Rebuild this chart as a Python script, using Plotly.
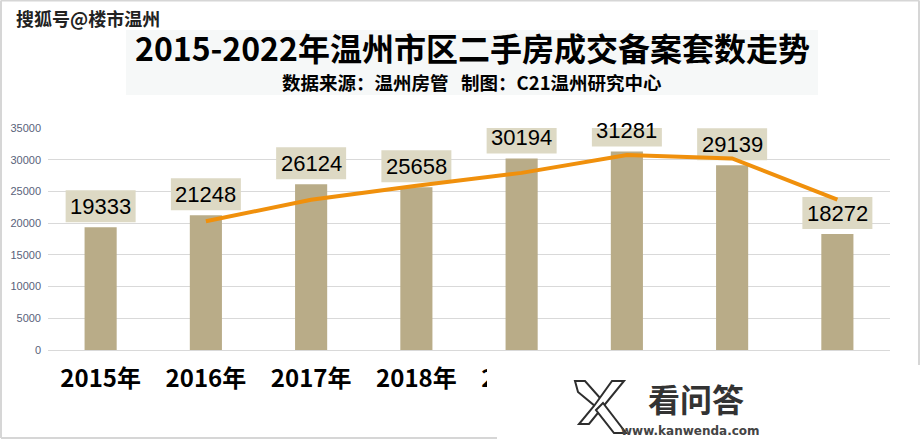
import plotly.graph_objects as go

years = ["2015年", "2016年", "2017年", "2018年", "2019年", "2020年", "2021年", "2022年"]
counts = [19333, 21248, 26124, 25658, 30194, 31281, 29139, 18272]
# 2-period moving-average trend line as drawn in the reference (starts at 2016)
trend_years = years[1:]
trend_vals = [20291, 23686, 25891, 27926, 30738, 30210, 23706]
yticks = [0, 5000, 10000, 15000, 20000, 25000, 30000, 35000]
# tick labels for 2020-2022 are hidden behind the watermark in the reference
xticktext = ["2015年", "2016年", "2017年", "2018年", "2019年", "", "", ""]

title = "2015-2022年温州市区二手房成交备案套数走势"
subtitle = "数据来源：温州房管   制图：C21温州研究中心"
watermark = "搜狐号@楼市温州"

W, H = 921, 440
L, R, T, B = 48, 31, 128, 90
PW, PH = W - L - R, H - T - B

def px(x):
    return (x - L) / PW

def py(y):
    return (H - B - y) / PH

CJK = "Noto Sans CJK SC"

fig = go.Figure()
fig.add_trace(go.Bar(x=years, y=counts, marker=dict(color="#B9AC88", line=dict(width=0)),
                     hoverinfo="skip", showlegend=False))
fig.add_trace(go.Scatter(x=trend_years, y=trend_vals, mode="lines",
                         line=dict(color="#F0900C", width=4), showlegend=False, hoverinfo="skip"))

annotations = []
shapes = []
for yr, v in zip(years, counts):
    shapes.append(dict(type="rect", xref="x", yref="y", xsizemode="pixel", ysizemode="pixel",
                       xanchor=yr, yanchor=v, x0=-35, x1=35, y0=5, y1=37,
                       fillcolor="#DDD9C4", line=dict(width=0), layer="between"))
    annotations.append(dict(x=yr, y=v, xref="x", yref="y", text=str(v), showarrow=False,
                            yshift=21, font=dict(family="Liberation Sans", size=22, color="#000000")))

# title background
shapes.append(dict(type="rect", xref="paper", yref="paper", x0=px(126), x1=px(818), y0=py(95), y1=py(30),
                   fillcolor="#F6F8F8", line=dict(width=0), layer="below"))
# white cover of watermark area
shapes.append(dict(type="rect", xref="paper", yref="paper", x0=px(487), x1=px(922), y0=py(441), y1=py(357),
                   fillcolor="#FFFFFF", line=dict(width=0), layer="above"))
# outer border segments
bc = "#D6D6D6"
shapes.append(dict(type="line", xref="paper", yref="paper", x0=px(1), x1=px(1), y0=py(438), y1=py(0.5), line=dict(color=bc, width=2)))
shapes.append(dict(type="line", xref="paper", yref="paper", x0=px(1), x1=px(919), y0=py(0.5), y1=py(0.5), line=dict(color=bc, width=2)))
shapes.append(dict(type="line", xref="paper", yref="paper", x0=px(919), x1=px(919), y0=py(0.5), y1=py(365), line=dict(color=bc, width=2)))
shapes.append(dict(type="line", xref="paper", yref="paper", x0=px(1), x1=px(497), y0=py(438), y1=py(438), line=dict(color=bc, width=2)))

# K logo (approximate outlined strokes)
def poly(pts):
    d = "M " + " L ".join(f"{px(a):.5f},{py(b):.5f}" for a, b in pts) + " Z"
    return dict(type="path", xref="paper", yref="paper", path=d, fillcolor="#FFFFFF",
                line=dict(color="#2E2E2E", width=2), layer="above")

shapes.append(poly([(575, 381), (585, 381), (601, 399), (595, 406), (578, 392)]))
shapes.append(poly([(612, 381), (624, 381), (589, 424), (579, 424), (594, 406)]))
shapes.append(poly([(596, 410), (603, 403), (626, 433), (614, 433)]))

annotations += [
    dict(x=px(472), y=py(47), xref="paper", yref="paper", text="<b>" + title + "</b>", showarrow=False,
         font=dict(family=CJK, size=32, color="#000000"), xanchor="center", yanchor="middle"),
    dict(x=px(472), y=py(82), xref="paper", yref="paper", text="<b>" + subtitle + "</b>", showarrow=False,
         font=dict(family=CJK, size=18.5, color="#000000"), xanchor="center", yanchor="middle"),
    dict(x=px(14), y=py(18), xref="paper", yref="paper", text="<b>" + watermark + "</b>", showarrow=False,
         font=dict(family=CJK, size=18, color="#222222"), xanchor="left", yanchor="middle"),
    dict(x=px(646), y=py(398), xref="paper", yref="paper", text="<b>看问答</b>", showarrow=False,
         font=dict(family=CJK, size=32, color="#333333"), xanchor="left", yanchor="middle"),
    dict(x=px(619), y=py(431), xref="paper", yref="paper", text="<b>www.kanwenda.com</b>", showarrow=False,
         font=dict(family="DejaVu Sans", size=12, color="#444444"), xanchor="left", yanchor="middle"),
]

fig.update_layout(
    width=W, height=H, margin=dict(l=L, r=R, t=T, b=B, autoexpand=False),
    paper_bgcolor="#FFFFFF", plot_bgcolor="#FFFFFF",
    bargap=0.695, showlegend=False,
    shapes=shapes, annotations=annotations,
    xaxis=dict(type="category", categoryorder="array", categoryarray=years,
               tickvals=years, ticktext=xticktext,
               tickfont=dict(family=CJK, size=24, color="#000000", weight="bold"),
               ticks="", showgrid=False, showline=False, zeroline=False, ticklabelstandoff=12,
               range=[-0.5, len(years) - 0.5]),
    yaxis=dict(range=[0, 35000], tickvals=yticks, ticktext=[str(t) for t in yticks],
               tickfont=dict(family="Liberation Sans", size=11, color="#59627A"),
               showgrid=True, gridcolor="#D9D9D9", gridwidth=1, zeroline=True, zerolinecolor="#D9D9D9",
               zerolinewidth=1, showline=False, ticks="", ticklabelstandoff=6),
)

fig.write_html("out.html")
